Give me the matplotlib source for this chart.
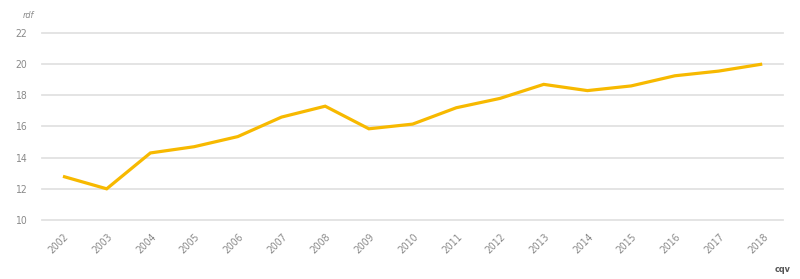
import matplotlib.pyplot as plt
import matplotlib.transforms as mtransforms

# datos
anios = [2002, 2003, 2004, 2005, 2006, 2007, 2008, 2009, 2010,
         2011, 2012, 2013, 2014, 2015, 2016, 2017, 2018]
valores = [12.8, 12.0, 14.3, 14.7, 15.35, 16.6, 17.3, 15.85, 16.15,
           17.2, 17.8, 18.7, 18.3, 18.6, 19.25, 19.55, 20.0]
y_ticks = [10, 12, 14, 16, 18, 20, 22]

AMARILLO = "#f7b900"
GRIS_TEXTO = "#8a8a8a"
GRIS_REJILLA = "#e2e2e2"

plt.rcParams["font.family"] = ["DejaVu Sans"]
plt.rcParams["font.stretch"] = "condensed"

fig = plt.figure(figsize=(8.0, 2.79), dpi=100)
ax = fig.add_axes([0.0525, 0.2115, 0.9265, 0.6705])

ax.plot(anios, valores, color=AMARILLO, linewidth=2.3, solid_joinstyle="miter",
        solid_capstyle="butt", zorder=3)

ax.set_ylim(10, 22)
ax.set_xlim(2002 - 0.48, 2018 + 0.48)
ax.set_yticks(y_ticks)
ax.set_xticks(anios)
ax.set_xticklabels([str(a) for a in anios], rotation=45, ha="right",
                   va="center", rotation_mode="anchor")

for y in y_ticks:
    ax.axhline(y, color=GRIS_REJILLA, linewidth=1.3, zorder=1, clip_on=False)

for s in ax.spines.values():
    s.set_visible(False)

ax.tick_params(axis="both", length=0, colors=GRIS_TEXTO, labelsize=7.5)
ax.tick_params(axis="y", pad=11)
ax.tick_params(axis="x", pad=10)

desplaza = mtransforms.ScaledTranslation(3 / 72, -1 / 72, fig.dpi_scale_trans)
for lab in ax.get_xticklabels():
    lab.set_transform(lab.get_transform() + desplaza)

fig.text(28 / 800, 1 - 15 / 279, "rdf", fontsize=6.5, color=GRIS_TEXTO,
         style="italic", ha="center", va="center")
fig.text(783 / 800, 1 - 270 / 279, "cqv", fontsize=6.5, color="#555555",
         fontweight="bold", ha="center", va="center")

fig.savefig("out.png", dpi=100)
plt.close(fig)
